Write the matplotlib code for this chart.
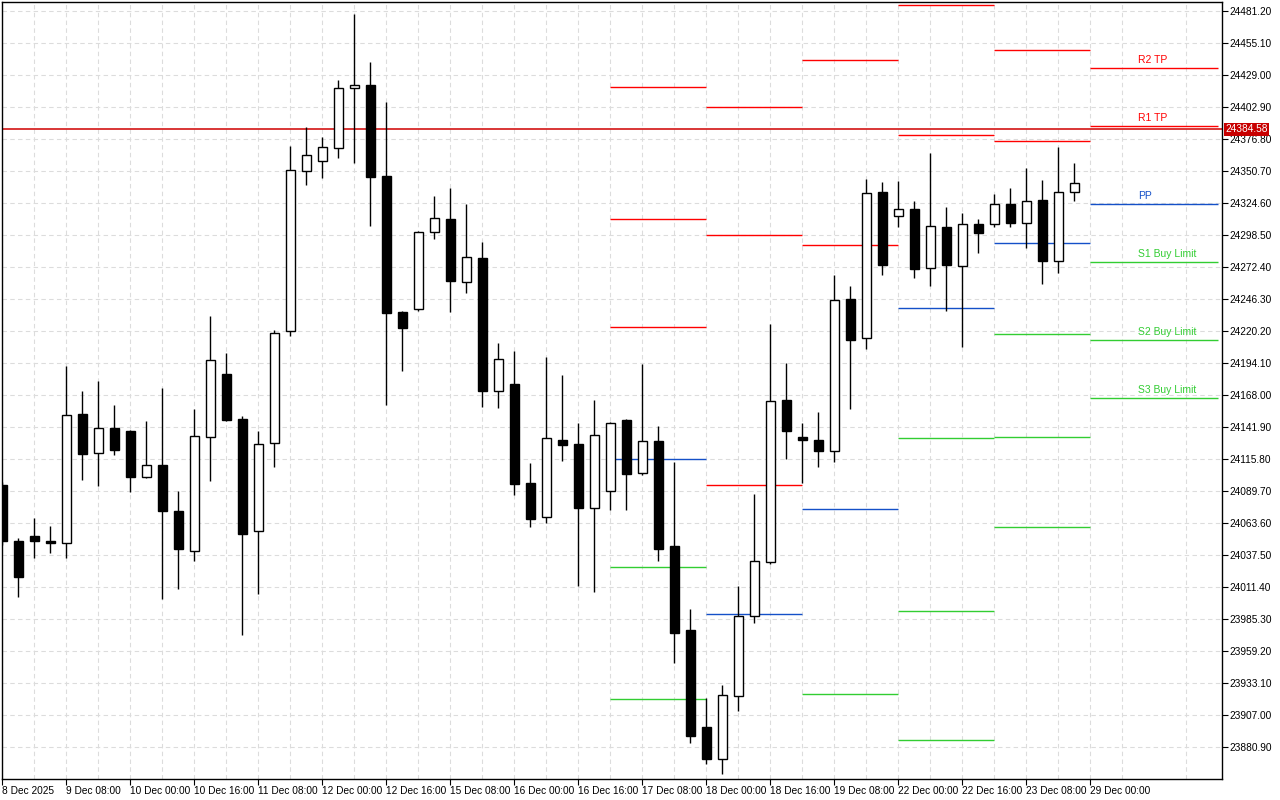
import matplotlib
matplotlib.use('Agg')
import matplotlib.pyplot as plt
from matplotlib.patches import Rectangle
import numpy as np

# H4 candles, 8 Dec 2025 16:00 onwards
opens = [24094.6, 24048.9, 24053.0, 24048.9, 24047.3, 24152.5, 24120.7, 24141.1, 24138.6, 24101.1,
         24110.9, 24073.4, 24040.8, 24133.7, 24185.1, 24148.4, 24057.1, 24128.9, 24220.2, 24350.7,
         24358.9, 24369.5, 24418.4, 24420.8, 24346.6, 24235.7, 24238.1, 24301.0, 24311.5, 24260.2,
         24279.7, 24171.3, 24177.0, 24096.2, 24068.5, 24131.3, 24128.0, 24075.8, 24089.7, 24147.6,
         24104.4, 24130.5, 24044.8, 23976.3, 23897.2, 23871.1, 23922.5, 23987.7, 24031.8, 24163.9,
         24133.7, 24131.3, 24122.3, 24246.3, 24214.5, 24333.6, 24314.0, 24319.7, 24271.6, 24305.0,
         24273.2, 24307.5, 24307.5, 24323.8, 24308.3, 24327.0, 24277.3, 24333.6]
highs = [24097.0, 24051.4, 24067.7, 24061.2, 24191.7, 24171.3, 24179.4, 24159.8, 24139.5, 24146.8,
         24173.7, 24089.7, 24156.6, 24232.4, 24202.3, 24150.9, 24138.6, 24221.0, 24371.1, 24386.6,
         24378.4, 24424.9, 24478.8, 24439.6, 24407.0, 24236.5, 24301.8, 24330.3, 24336.8, 24323.8,
         24292.8, 24210.4, 24203.9, 24112.5, 24199.0, 24184.3, 24145.2, 24163.9, 24146.0, 24148.4,
         24193.3, 24142.7, 24113.4, 23993.5, 23920.9, 23931.5, 24012.2, 24087.3, 24225.9, 24194.1,
         24145.2, 24154.1, 24265.9, 24256.9, 24344.2, 24341.7, 24342.5, 24326.2, 24365.4, 24321.3,
         24316.4, 24311.5, 24331.9, 24336.8, 24353.1, 24343.4, 24370.3, 24357.2]
lows = [24045.7, 24003.2, 24035.0, 24039.1, 24035.0, 24098.7, 24093.8, 24119.1, 24088.9, 24100.3,
        24001.6, 24009.8, 24032.6, 24097.9, 24146.8, 23972.3, 24005.7, 24109.3, 24216.1, 24339.3,
        24345.0, 24361.3, 24357.2, 24305.8, 24159.8, 24187.6, 24236.5, 24295.2, 24235.7, 24251.2,
        24158.2, 24157.4, 24086.4, 24060.3, 24063.6, 24114.2, 24012.2, 24007.3, 24074.2, 24074.2,
        24102.8, 24032.6, 23949.4, 23884.2, 23867.0, 23858.9, 23910.3, 23982.0, 24030.2, 24115.8,
        24096.2, 24109.3, 24113.4, 24156.6, 24205.5, 24265.9, 24305.0, 24263.4, 24256.9, 24236.5,
        24207.2, 24283.8, 24305.0, 24305.0, 24287.9, 24258.5, 24267.5, 24326.2]
closes = [24048.9, 24019.6, 24048.9, 24047.3, 24151.7, 24119.9, 24141.1, 24123.1, 24101.1, 24110.9,
          24073.4, 24042.4, 24134.6, 24196.5, 24147.6, 24054.6, 24128.0, 24218.6, 24351.5, 24363.8,
          24370.3, 24418.4, 24420.8, 24345.8, 24234.9, 24222.6, 24301.0, 24312.4, 24261.0, 24280.6,
          24171.3, 24197.4, 24095.4, 24066.9, 24132.9, 24127.2, 24075.8, 24135.4, 24145.2, 24103.6,
          24130.5, 24042.4, 23973.9, 23889.9, 23871.1, 23923.3, 23987.7, 24032.6, 24163.1, 24138.6,
          24131.3, 24122.3, 24245.5, 24212.9, 24332.8, 24274.0, 24319.7, 24270.8, 24305.8, 24274.0,
          24307.5, 24300.1, 24323.8, 24308.3, 24326.2, 24277.3, 24333.6, 24340.9]

time_labels = ['8 Dec 2025', '9 Dec 08:00', '10 Dec 00:00', '10 Dec 16:00', '11 Dec 08:00',
               '12 Dec 00:00', '12 Dec 16:00', '15 Dec 08:00', '16 Dec 00:00', '16 Dec 16:00',
               '17 Dec 08:00', '18 Dec 00:00', '18 Dec 16:00', '19 Dec 08:00', '22 Dec 00:00',
               '22 Dec 16:00', '23 Dec 08:00', '29 Dec 00:00']

# daily pivot levels (bar index where each day starts / ends)
seg_start = [38, 44, 50, 56, 62, 68]
seg_end = [44, 50, 56, 62, 68, 76]
nan = np.nan
R3 = [24419.2, 24402.9, nan, nan, nan, nan]
R2 = [24311.5, 24298.5, 24441.2, 24486.1, 24449.4, 24434.7]
R1 = [24223.5, 24094.6, 24290.3, 24380.1, 24375.2, 24387.4]
PP = [24115.8, 23989.4, 24075.0, 24239.0, 24292.0, 24323.8]
S1 = [24027.7, nan, 23924.1, 24132.9, 24217.8, 24276.5]
S2 = [23920.1, nan, nan, 23991.8, 24133.7, 24212.9]
S3 = [nan, nan, nan, 23886.6, 24060.3, 24165.6]
current_labels = ['R2 TP', 'R1 TP', 'PP', 'S1 Buy Limit', 'S2 Buy Limit', 'S3 Buy Limit']

price_line = 24384.58

RED = '#FF0000'
BLUE = '#1450C8'
GREEN = '#32CD32'

plt.rcParams['font.family'] = ['Liberation Sans', 'DejaVu Sans']

fig = plt.figure(figsize=(12.8, 8), dpi=100)
fig.patch.set_facecolor('white')
ax = fig.add_axes([2 / 1280, 21 / 800, 1220 / 1280, 777 / 800])

n = len(opens)
idx = np.arange(n)

# wicks
ax.vlines(idx, lows, highs, color='black', lw=1.0, zorder=3)
# bodies
bw = 9 / 16
for i in range(n):
    o, c = opens[i], closes[i]
    bottom = min(o, c)
    h = max(abs(c - o), 0.4)
    fc = 'white' if c > o else 'black'
    ax.add_patch(Rectangle((i - bw / 2, bottom), bw, h, facecolor=fc,
                           edgecolor='black', lw=1.0, zorder=4))

# pivot segments
levels = [(R3, RED), (R2, RED), (R1, RED), (PP, BLUE), (S1, GREEN), (S2, GREEN), (S3, GREEN)]
for vals, col in levels:
    for j in range(len(seg_start)):
        if not np.isnan(vals[j]):
            ax.hlines(vals[j], seg_start[j], seg_end[j], color=col, lw=1.0, zorder=2)

# labels on the current day
cur = [R2[-1], R1[-1], PP[-1], S1[-1], S2[-1], S3[-1]]
cur_cols = [RED, RED, BLUE, GREEN, GREEN, GREEN]
for lab, val, col in zip(current_labels, cur, cur_cols):
    ax.annotate(lab, (71.0, val), xytext=(0, 2), textcoords='offset points',
                color=col, fontsize=7.5, ha='left', va='bottom', zorder=5)

# current price line
ax.axhline(price_line, color='#D00000', lw=1.1, zorder=2)
ax.annotate(f'{price_line:.2f}', xy=(1.0025, price_line),
            xycoords=('axes fraction', 'data'), color='white', fontsize=7.3,
            ha='left', va='center', annotation_clip=False,
            bbox=dict(boxstyle='square,pad=0.12', facecolor='#C80000', edgecolor='none'))

ax.set_xlim(0, 76.25)
ax.set_ylim(23854.8, 24488.5)

yt = np.arange(23880.9, 24481.3, 26.1)
ax.set_yticks(yt)
ax.set_yticklabels([f'{v:.2f}' for v in yt])
ax.yaxis.tick_right()

ax.set_xticks(np.arange(0, 69, 4))
ax.set_xticklabels(time_labels, ha='left')
ax.set_xticks(np.arange(2, 77, 4), minor=True)

ax.tick_params(axis='both', which='major', direction='out', length=4, width=0.8,
               labelsize=7.3, colors='black', pad=1)
ax.tick_params(axis='x', which='minor', length=0)

ax.grid(which='both', color='#DCDCDC', linestyle=(0, (4, 3)), lw=0.8, zorder=0)
ax.set_axisbelow(True)
for s in ax.spines.values():
    s.set_color('black')
    s.set_linewidth(1.0)

fig.savefig('out.png', dpi=100, facecolor='white')
